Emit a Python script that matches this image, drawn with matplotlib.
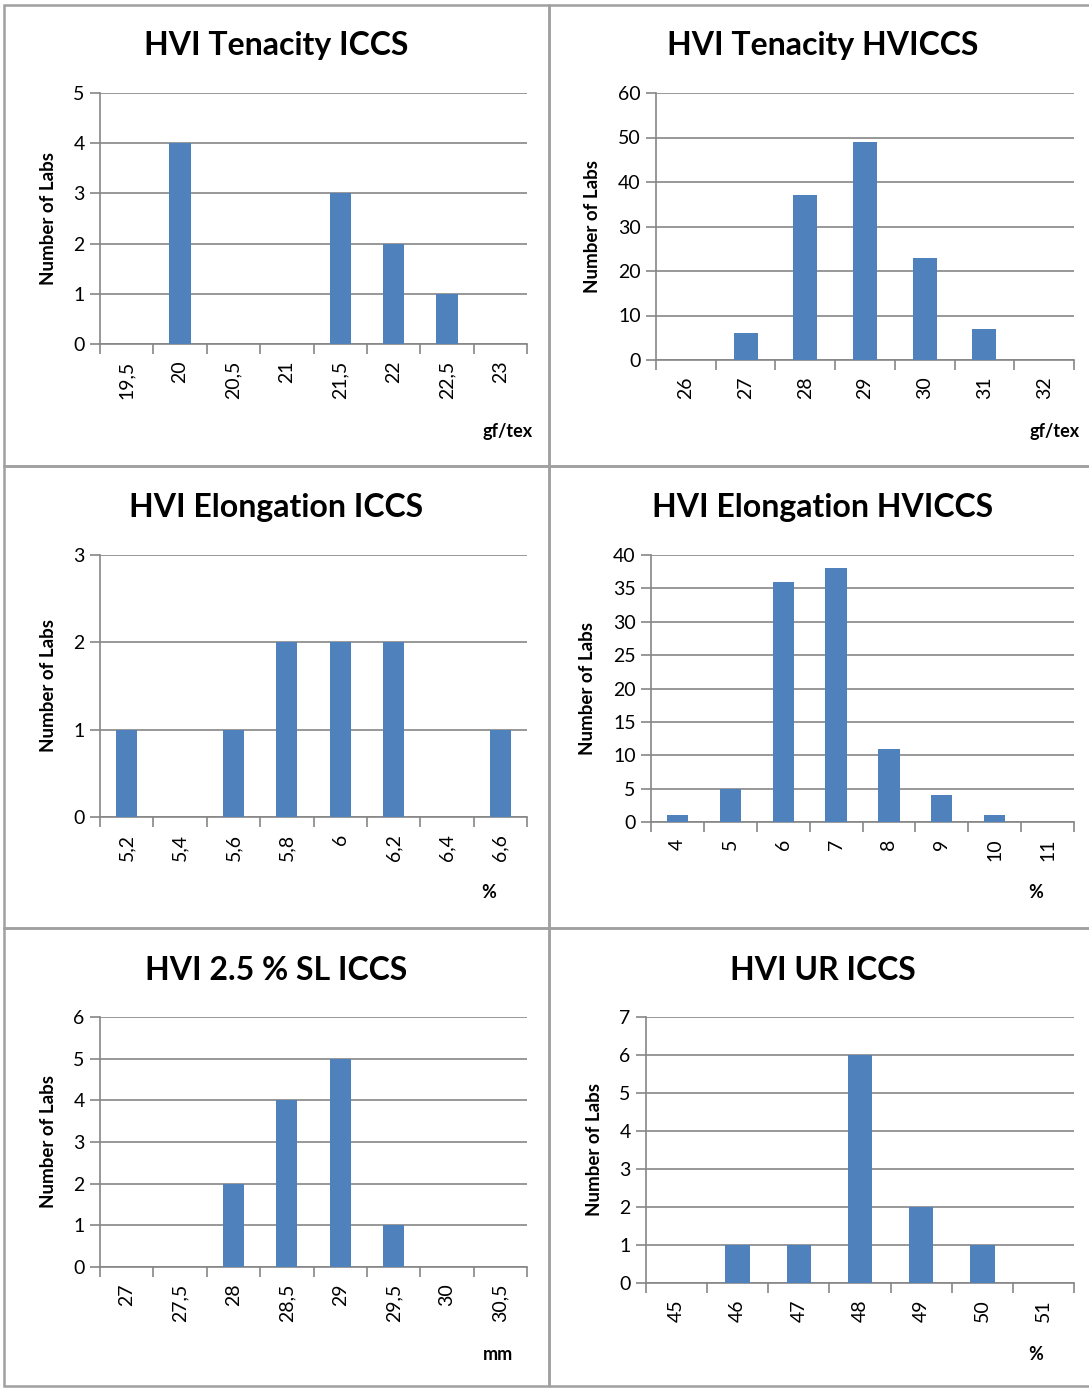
import matplotlib.pyplot as plt
from matplotlib.patches import Rectangle

plt.rcParams['font.family'] = ['Lato', 'DejaVu Sans']

# Histogram data: class labels and number of labs per class
ten_iccs_labels = ["19,5", "20", "20,5", "21", "21,5", "22", "22,5", "23"]
ten_iccs_counts = [0, 4, 0, 0, 3, 2, 1, 0]

ten_hviccs_labels = ["26", "27", "28", "29", "30", "31", "32"]
ten_hviccs_counts = [0, 6, 37, 49, 23, 7, 0]

elo_iccs_labels = ["5,2", "5,4", "5,6", "5,8", "6", "6,2", "6,4", "6,6"]
elo_iccs_counts = [1, 0, 1, 2, 2, 2, 0, 1]

elo_hviccs_labels = ["4", "5", "6", "7", "8", "9", "10", "11"]
elo_hviccs_counts = [1, 5, 36, 38, 11, 4, 1, 0]

sl_iccs_labels = ["27", "27,5", "28", "28,5", "29", "29,5", "30", "30,5"]
sl_iccs_counts = [0, 0, 2, 4, 5, 1, 0, 0]

ur_iccs_labels = ["45", "46", "47", "48", "49", "50", "51"]
ur_iccs_counts = [0, 1, 1, 6, 2, 1, 0]

W, H = 1089, 1388
BAR = "#4F81BD"
GRID = "#868686"

fig = plt.figure(figsize=(W / 100, H / 100), dpi=100)

# panel frames (pixel coords: x0, y0, x1, y1)
for x0, y0, x1, y1 in [(4, 5, 549, 466), (549, 5, 1095, 466),
                       (4, 466, 549, 928), (549, 466, 1095, 928),
                       (4, 928, 549, 1386), (549, 928, 1095, 1386)]:
    fig.patches.append(Rectangle((x0 / W, 1 - y1 / H), (x1 - x0) / W, (y1 - y0) / H,
                                 transform=fig.transFigure, fill=False,
                                 edgecolor="#A0A0A0", linewidth=1.8))

panels = [
    # title, labels, counts, ymax, ystep, unit, axes box px (x0, ytop, x1, ybot), title y, unit xy
    ("HVI Tenacity ICCS", ten_iccs_labels, ten_iccs_counts, 5, 1, "gf/tex",
     (100, 93, 527, 344), 45, (508, 432)),
    ("HVI Tenacity HVICCS", ten_hviccs_labels, ten_hviccs_counts, 60, 10, "gf/tex",
     (656, 93, 1074, 360), 45, (1055, 432)),
    ("HVI Elongation ICCS", elo_iccs_labels, elo_iccs_counts, 3, 1, "%",
     (100, 555, 527, 817), 508, (489, 893)),
    ("HVI Elongation HVICCS", elo_hviccs_labels, elo_hviccs_counts, 40, 5, "%",
     (651, 555, 1074, 822), 508, (1036, 893)),
    ("HVI 2.5 % SL ICCS", sl_iccs_labels, sl_iccs_counts, 6, 1, "mm",
     (100, 1017, 527, 1267), 970, (498, 1355)),
    ("HVI UR ICCS", ur_iccs_labels, ur_iccs_counts, 7, 1, "%",
     (646, 1017, 1074, 1283), 970, (1036, 1355)),
]

for title, labels, counts, ymax, ystep, unit, box, ty, uxy in panels:
    x0, yt, x1, yb = box
    ax = fig.add_axes([x0 / W, 1 - yb / H, (x1 - x0) / W, (yb - yt) / H])
    n = len(labels)
    pos = list(range(n))
    ax.bar(pos, counts, width=0.4, color=BAR, zorder=3)
    ax.set_xlim(-0.5, n - 0.5)
    ax.set_ylim(0, ymax)
    ax.set_yticks(range(0, ymax + 1, ystep))
    ax.yaxis.grid(True, color=GRID, linewidth=1.2, zorder=0)
    ax.set_axisbelow(True)

    # category boundaries carry the tick marks, labels sit at the centres
    ax.set_xticks([p - 0.5 for p in pos] + [n - 0.5])
    ax.set_xticklabels([])
    ax.set_xticks(pos, minor=True)
    ax.set_xticklabels(labels, minor=True, rotation=90, fontsize=14)
    ax.tick_params(axis="x", which="major", length=7, color=GRID, width=1.2)
    ax.tick_params(axis="x", which="minor", length=0, pad=12)
    ax.tick_params(axis="y", length=7, color=GRID, width=1.2, labelsize=14, pad=4)

    for side in ("top", "right"):
        ax.spines[side].set_visible(False)
    for side in ("left", "bottom"):
        ax.spines[side].set_color(GRID)
        ax.spines[side].set_linewidth(1.2)

    ax.set_ylabel("Number of Labs", fontsize=13.5, fontweight="bold", labelpad=12)

    tx = 276 if x0 < 549 else 823
    fig.text(tx / W, 1 - ty / H, title, ha="center", va="center",
             fontsize=23, fontweight="bold")
    fig.text(uxy[0] / W, 1 - uxy[1] / H, unit, ha="center", va="center",
             fontsize=13, fontweight="bold")

fig.savefig("out.png", dpi=100)
